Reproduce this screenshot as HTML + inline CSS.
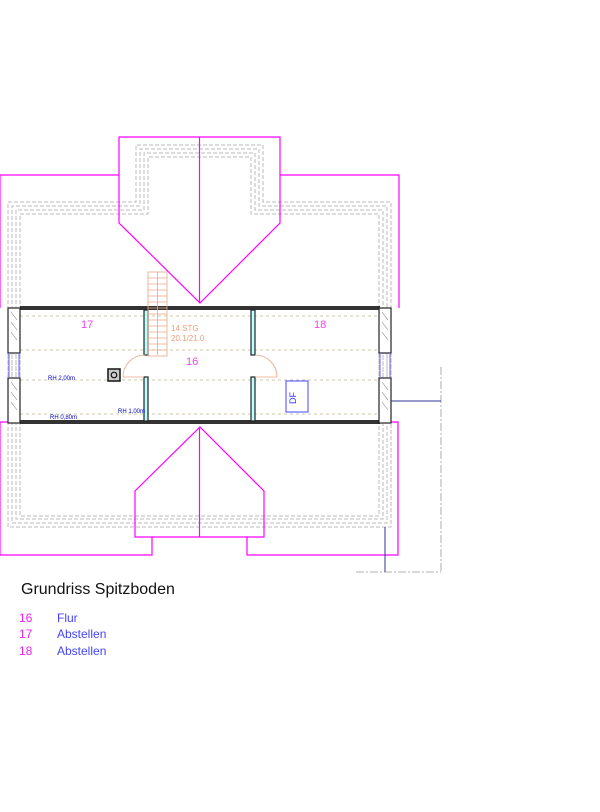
<!DOCTYPE html>
<html><head><meta charset="utf-8"><style>
html,body{margin:0;padding:0;background:#fff;width:600px;height:812px;overflow:hidden}
svg{display:block}
text{font-family:"Liberation Sans",sans-serif}
</style></head><body>
<svg width="600" height="812" viewBox="0 0 600 812" xmlns="http://www.w3.org/2000/svg">
<g fill="none" stroke="#bbb" stroke-width="1" stroke-dasharray="4,2">
 <path d="M8,424 V202 H136 V145 H263 V202 H391 V424"/>
 <path d="M12,424 V206 H140 V149 H259 V206 H387 V424"/>
 <path d="M16,424 V210 H144 V153 H255 V210 H383 V424"/>
 <path d="M20,424 V214 H148 V157 H251 V214 H379 V424"/>
 <path d="M8,307 V527 H391 V307"/>
 <path d="M12,307 V523 H387 V307"/>
 <path d="M16,307 V519 H383 V307"/>
 <path d="M20,307 V516 H379 V307"/>
</g>
<!-- roofs magenta -->
<g fill="none" stroke="#f0f" stroke-width="1.2">
 <path d="M0,308 V175 H119"/><path d="M280,175 H399 V308"/>
 <path d="M119,137 H280 V223 L200,303 L119,223 Z"/>
 <line x1="199.5" y1="137" x2="199.5" y2="303"/>
 <path d="M0,422 V555 H152 V537"/><path d="M247,537 V555 H398 V422 H391"/>
 <line x1="0" y1="422" x2="8" y2="422"/>
 <path d="M135,537 H264 V491 L200,427 L135,491 Z"/>
 <line x1="199.5" y1="427" x2="199.5" y2="537"/>
 <line x1="20" y1="308" x2="146" y2="308" stroke="#c0c" stroke-width="2"/>
</g>
<!-- dashed room lines -->
<g stroke="#bcb890" stroke-width="0.8" stroke-dasharray="3,3">
 <line x1="20" y1="316" x2="379" y2="316"/>
 <line x1="20" y1="350" x2="379" y2="350"/>
 <line x1="20" y1="380" x2="379" y2="380"/>
 <line x1="20" y1="414" x2="379" y2="414"/>
</g>
<!-- walls -->
<g fill="#333">
 <rect x="20" y="306" width="360" height="4"/>
 <rect x="20" y="420" width="360" height="4"/>
</g>
<g fill="#fff" stroke="#222" stroke-width="1.2">
 <rect x="8" y="308" width="12" height="45"/><rect x="8" y="378" width="12" height="45"/>
 <rect x="379" y="308" width="12" height="45"/><rect x="379" y="378" width="12" height="45"/>
</g>
<g stroke="#888" stroke-width="0.6">
 <path d="M11,312 l6,8 M11,322 l6,8 M11,332 l6,8 M11,382 l6,8 M11,392 l6,8 M11,402 l6,8 M382,312 l6,8 M382,322 l6,8 M382,332 l6,8 M382,382 l6,8 M382,392 l6,8 M382,402 l6,8"/>
</g>
<g stroke="#66f" stroke-width="1"><line x1="9" y1="353" x2="9" y2="378"/><line x1="19" y1="353" x2="19" y2="378"/><line x1="380" y1="353" x2="380" y2="378"/><line x1="390" y1="353" x2="390" y2="378"/></g>
<g fill="#bff" stroke="#222" stroke-width="1.2">
 <rect x="144" y="310" width="4" height="45"/><rect x="144" y="377" width="4" height="44"/>
 <rect x="251" y="310" width="4" height="45"/><rect x="251" y="377" width="4" height="44"/>
</g>
<!-- stairs -->
<g fill="none" stroke="#e8a888" stroke-width="0.8">
 <rect x="148" y="272" width="19" height="84"/>
 <path d="M148,278h19M148,284h19M148,290h19M148,296h19M148,302h19M148,308h19M148,314h19M148,320h19M148,326h19M148,332h19M148,338h19M148,344h19M148,350h19"/>
 <line x1="157.5" y1="272" x2="157.5" y2="355"/>
 <path d="M145,355 A22,22 0 0 0 123,377 M123,377 H144"/>
 <path d="M255,355 A22,22 0 0 1 277,377 M277,377 H255"/>
</g>
<rect x="108" y="369" width="12" height="12" fill="#ccc" stroke="#111" stroke-width="1.5"/>
<circle cx="114" cy="375" r="2.8" fill="none" stroke="#111" stroke-width="1.2"/>
<rect x="286" y="381" width="22" height="31" fill="none" stroke="#44f" stroke-width="1"/>
<text x="296" y="398" font-size="9" fill="#33f" transform="rotate(-90 296 398)" text-anchor="middle">DF</text>
<!-- right dimension -->
<g stroke="#999" stroke-width="0.8" stroke-dasharray="8,2,2,2" fill="none">
 <line x1="441" y1="367" x2="441" y2="572"/><line x1="356" y1="572" x2="441" y2="572"/>
</g>
<g stroke="#339" stroke-width="1"><line x1="391" y1="401" x2="441" y2="401"/><line x1="385" y1="527" x2="385" y2="572"/></g>
<!-- labels -->
<g font-size="11" fill="#e4e">
 <text x="81" y="328">17</text><text x="186" y="365">16</text><text x="314" y="328">18</text>
</g>
<g font-size="8" fill="#e8a080"><text x="171" y="331">14 STG</text><text x="171" y="341">20.1/21.0</text></g>
<g font-size="6" fill="#00c">
 <text x="48" y="380">RH 2,00m</text><text x="50" y="419">RH 0,80m</text><text x="118" y="413">RH 1,00m</text>
</g>
<text x="21" y="594" font-size="16" fill="#111">Grundriss Spitzboden</text>
<g font-size="12">
 <text x="19" y="622" fill="#e2e">16</text><text x="57" y="622" fill="#44f">Flur</text>
 <text x="19" y="638" fill="#e2e">17</text><text x="57" y="638" fill="#44f">Abstellen</text>
 <text x="19" y="655" fill="#e2e">18</text><text x="57" y="655" fill="#44f">Abstellen</text>
</g>
</svg>
</body></html>
